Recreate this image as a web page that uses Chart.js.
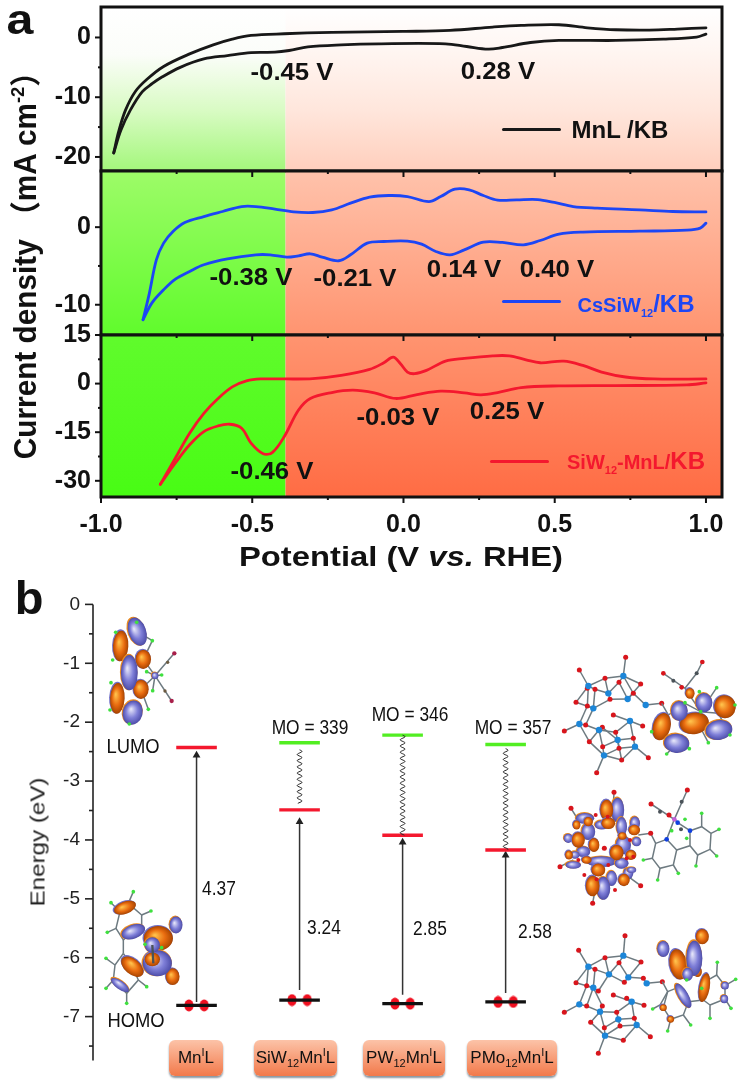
<!DOCTYPE html>
<html>
<head>
<meta charset="utf-8">
<script src="https://cdn.jsdelivr.net/npm/chart.js@4/dist/chart.umd.min.js"></script>
<style>
  html, body { margin: 0; background: #fff; }
  #page { position: relative; width: 742px; height: 1085px; overflow: hidden; font-family: "Liberation Sans", "Noto Sans CJK SC", sans-serif; }
  canvas { position: absolute; left: 0; }
  .t { position: absolute; white-space: nowrap; transform-origin: center; line-height: 1; }
  .bold { font-weight: bold; }
  .key { position: absolute; height: 3px; border-radius: 2px; }
  .box { position: absolute; top: 1040px; height: 36px; border-radius: 6px; background: linear-gradient(#fcc3a8, #f2794a); box-shadow: 0 2px 2px #8a96a0; display: flex; align-items: center; justify-content: center; font-size: 17px; color: #111; }
  .box sub, .box sup { font-size: 11px; line-height: 0; }
  .t sub { font-size: 0.55em; line-height: 0; }
</style>
</head>
<body>
<div id="page">
  <canvas id="p1" style="top:-23px"></canvas>
  <canvas id="p2" style="top:141px"></canvas>
  <canvas id="p3" style="top:305px"></canvas>
  <canvas id="pb" style="top:580px"></canvas>
</div>
<script>
// panel a: potential (V vs RHE) and current density
const xTicks = [-1, -0.5, 0, 0.5, 1]
const xMinorTicks = [-0.75, -0.25, 0.25, 0.75]

const mnlUpX = [-0.958, -0.942, -0.919, -0.887, -0.848, -0.793, -0.707, -0.629, -0.566, -0.504, -0.394, -0.237, -0.002, 0.154, 0.295, 0.389, 0.514, 0.608, 0.702, 0.812, 0.906, 1.0]
const mnlUpY = [-19.33, -15.8, -12.16, -9.08, -7.0, -4.85, -2.75, -1.23, -0.28, 0.34, 0.62, 0.84, 1.01, 1.18, 1.74, 2.02, 2.13, 1.62, 1.29, 1.23, 1.40, 1.62]
const mnlDownX = [-0.958, -0.934, -0.903, -0.864, -0.830, -0.801, -0.738, -0.660, -0.582, -0.504, -0.425, -0.378, -0.316, -0.206, -0.081, 0.139, 0.209, 0.280, 0.327, 0.420, 0.514, 0.702, 0.859, 0.969, 1.0]
const mnlDownY = [-19.33, -15.5, -12.16, -9.1, -7.7, -6.7, -5.0, -3.6, -3.03, -2.52, -2.46, -2.18, -1.57, -1.23, -1.06, -1.06, -1.51, -1.96, -1.68, -0.84, -0.5, -0.5, -0.28, 0.06, 0.56]

const csUpX = [-0.861, -0.840, -0.817, -0.793, -0.762, -0.723, -0.660, -0.598, -0.535, -0.488, -0.425, -0.363, -0.300, -0.237, -0.175, -0.112, -0.049, 0.013, 0.084, 0.123, 0.170, 0.217, 0.264, 0.311, 0.374, 0.444, 0.499, 0.561, 0.640, 0.781, 0.890, 1.0]
const csUpY = [-11.93, -8.5, -4.21, -2.06, -0.56, 0.6, 1.37, 2.02, 2.66, 2.66, 2.32, 1.97, 1.89, 2.23, 3.09, 3.86, 4.08, 3.95, 3.3, 3.95, 4.89, 4.81, 4.08, 3.48, 3.52, 3.56, 3.18, 2.66, 2.45, 2.23, 2.02, 1.97]
const csDownX = [-0.861, -0.832, -0.793, -0.754, -0.707, -0.660, -0.582, -0.488, -0.441, -0.386, -0.347, -0.308, -0.269, -0.214, -0.175, -0.120, -0.065, 0.013, 0.060, 0.107, 0.154, 0.201, 0.264, 0.327, 0.397, 0.452, 0.514, 0.593, 0.781, 0.937, 0.981, 1.0]
const csDownY = [-11.93, -9.79, -8.07, -6.70, -5.71, -4.85, -4.08, -3.56, -3.56, -3.86, -3.69, -3.43, -3.86, -4.33, -3.56, -2.06, -1.85, -1.80, -2.19, -3.13, -3.56, -2.92, -1.93, -1.97, -2.27, -1.72, -0.9, -0.64, -0.52, -0.39, -0.13, 0.52]

const siwUpX = [-0.804, -0.754, -0.707, -0.660, -0.613, -0.566, -0.519, -0.472, -0.394, -0.300, -0.206, -0.112, -0.065, -0.034, -0.010, 0.013, 0.037, 0.076, 0.139, 0.201, 0.295, 0.350, 0.405, 0.452, 0.530, 0.593, 0.655, 0.734, 0.828, 1.0]
const siwUpY = [-31.1, -22.96, -15.31, -9.18, -4.59, -1.02, 0.82, 1.43, 1.43, 1.53, 2.55, 4.39, 6.43, 8.16, 6.12, 3.57, 3.06, 4.08, 6.94, 7.76, 8.57, 8.57, 7.35, 6.43, 6.94, 5.61, 3.57, 2.04, 1.43, 1.43]
const siwDownX = [-0.804, -0.754, -0.707, -0.660, -0.613, -0.574, -0.535, -0.504, -0.464, -0.433, -0.394, -0.347, -0.308, -0.237, -0.167, -0.096, -0.026, 0.045, 0.123, 0.201, 0.256, 0.311, 0.389, 0.514, 0.702, 0.937, 1.0]
const siwDownY = [-31.1, -24.49, -18.88, -14.8, -13.06, -12.55, -13.78, -18.37, -21.63, -21.22, -16.33, -8.16, -4.59, -2.76, -2.04, -2.86, -4.59, -3.37, -2.35, -2.86, -3.47, -2.76, -1.22, -0.71, -0.61, -0.41, 0.2]

// panel b: energy levels in eV
const compounds = [0, 1, 2, 3]
const lumoLevels = [-2.43, -3.49, -3.92, -4.17]
const homoLevels = [-6.81, -6.72, -6.78, -6.75]
const moLevels = [null, -2.35, -2.22, -2.38]
const arrowTops = [-2.56, -3.69, -4.04, -4.26]
const arrowBottoms = [-6.75, -6.55, -6.63, -6.6]
const waveTops = [null, -2.47, -2.22, -2.45]
const waveBottoms = [null, -3.38, -3.92, -4.17]
const energyTicks = [0, -1, -2, -3, -4, -5, -6, -7]
const energyMinorTicks = [-0.5, -1.5, -2.5, -3.5, -4.5, -5.5, -6.5, -7.5]

const pts = (xs, ys) => xs.map((x, i) => ({ x, y: ys[i] }))
const LEFT = 101, RIGHT = 722
const SPLIT = -0.39
const tickFont = { family: "Liberation Sans", size: 25, weight: "bold" }

// page-wide gradient behind all three panels, pageY is used so panels line up
function shade(ctx, top, stops) {
  const g = ctx.createLinearGradient(0, 7 - top, 0, 497 - top)
  stops.forEach(([p, c]) => g.addColorStop((p - 7) / 490, c))
  return g
}
const greenStops = [[7, "#ffffff"], [55, "#fbfdf9"], [110, "#d9fbc4"], [170, "#a4f77c"], [172, "#9dfb68"], [335, "#60fb2c"], [497, "#48fc14"]]
const orangeStops = [[7, "#ffffff"], [50, "#fff6f2"], [110, "#ffe6dc"], [170, "#ffcfbd"], [172, "#ffc2ab"], [335, "#ff9470"], [497, "#ff6c44"]]

const panelPlugin = {
  id: "panelPlugin",
  beforeDatasetsDraw(chart) {
    const { ctx, chartArea: a, scales: { x } } = chart
    const top = chart.canvas.offsetTop
    const mid = x.getPixelForValue(SPLIT)
    ctx.save()
    ctx.fillStyle = shade(ctx, top, greenStops)
    ctx.fillRect(a.left, a.top, mid - a.left, a.height)
    ctx.fillStyle = shade(ctx, top, orangeStops)
    ctx.fillRect(mid, a.top, a.right - mid, a.height)
    ctx.restore()
  },
  afterDatasetsDraw(chart, args, opts) {
    const { ctx, chartArea: a, scales: { x, y } } = chart
    ctx.save()
    ctx.strokeStyle = "#111"
    ctx.lineWidth = 2
    opts.yMajor.concat(opts.yMinor).forEach((v) => {
      const py = y.getPixelForValue(v)
      const len = opts.yMajor.includes(v) ? 6 : 3
      ctx.beginPath(); ctx.moveTo(a.left - len, py); ctx.lineTo(a.left, py); ctx.stroke()
    })
    xTicks.concat(xMinorTicks).forEach((v) => {
      const px = x.getPixelForValue(v)
      const len = xTicks.includes(v) ? 6 : 3
      ctx.beginPath()
      if (opts.bottomAxis) { ctx.moveTo(px, a.bottom); ctx.lineTo(px, a.bottom + len) }
      if (opts.topTicks) { ctx.moveTo(px, a.top); ctx.lineTo(px, a.top + len) }
      ctx.stroke()
    })
    ctx.lineWidth = 3
    ctx.strokeRect(a.left, a.top, a.width, a.height)
    ctx.restore()
  },
}

function panel(id, cfg) {
  const el = document.getElementById(id)
  el.width = 742
  el.height = cfg.canvasH
  el.style.width = "742px"
  el.style.height = cfg.canvasH + "px"
  return new Chart(el, {
    type: "line",
    data: {
      datasets: cfg.branches.map((b) => ({
        data: b, borderColor: cfg.color, borderWidth: 2.8, pointRadius: 0, tension: 0.35,
        borderCapStyle: "round", borderJoinStyle: "round",
      })),
    },
    options: {
      responsive: false, animation: false,
      layout: { padding: { left: 0, right: 742 - RIGHT, top: 30, bottom: cfg.bottomAxis ? 0 : 30 } },
      plugins: {
        legend: { display: false }, tooltip: { enabled: false },
        panelPlugin: { yMajor: cfg.yMajor, yMinor: cfg.yMinor, bottomAxis: cfg.bottomAxis, topTicks: cfg.topTicks },
      },
      scales: {
        x: {
          type: "linear", min: -1, max: 1.053, display: !!cfg.bottomAxis,
          grid: { display: false, drawTicks: false }, border: { display: false },
          afterBuildTicks: (s) => { s.ticks = xTicks.map((value) => ({ value })) },
          afterFit: (s) => { s.height = cfg.bottomAxis ? 46 : 0 },
          ticks: { font: tickFont, color: "#111", padding: 13, maxRotation: 0, autoSkip: false, callback: (v) => v.toFixed(1) },
        },
        y: {
          min: cfg.yMin, max: cfg.yMax,
          grid: { display: false, drawTicks: false }, border: { display: false },
          afterBuildTicks: (s) => { s.ticks = cfg.yMajor.map((value) => ({ value })) },
          afterFit: (s) => { s.width = LEFT },
          ticks: { font: tickFont, color: "#111", padding: 10, autoSkip: false, callback: (v) => String(v) },
        },
      },
    },
    plugins: [panelPlugin],
  })
}

panel("p1", {
  canvasH: 224, color: "#181818",
  yMin: -22.35, yMax: 5.1, yMajor: [0, -10, -20], yMinor: [-5, -15],
  branches: [pts(mnlUpX, mnlUpY), pts(mnlDownX, mnlDownY)],
})
panel("p2", {
  canvasH: 224, color: "#1c46f5", topTicks: true,
  yMin: -13.9, yMax: 7.24, yMajor: [0, -10], yMinor: [-5],
  branches: [pts(csUpX, csUpY), pts(csDownX, csDownY)],
})
panel("p3", {
  canvasH: 238, color: "#f4182e", topTicks: true, bottomAxis: true,
  yMin: -35, yMax: 15, yMajor: [15, 0, -15, -30], yMinor: [7.5, -7.5, -22.5],
  branches: [pts(siwUpX, siwUpY), pts(siwDownX, siwDownY)],
})

// molecule sketches for panel b, not data: coordinates are 3x units from a local origin
const BLUE = ["#e2e2f8", "#7f7fd8", "#4c4ca8"]
const ORANGE = ["#ffc04a", "#e96c10", "#a84400"]
const GREEN = "#3fe03f", RED = "#d8151c", WCOL = "#1c86d8", GREY = "#4a5258"
function blob(ctx, [cx, cy, r1, r2, rot = 0], pal) {
  const rx = r1 * 1.15, ry = r2 * 1.15
  ctx.save()
  ctx.translate(cx, cy)
  ctx.rotate(rot * Math.PI / 180)
  // thin lobe of the other phase shows as a rim
  ctx.fillStyle = pal === BLUE ? "#e98a20" : "#7070c8"
  ctx.beginPath(); ctx.ellipse(-2, -2, rx * 1.04, ry * 1.04, 0, 0, Math.PI * 2); ctx.fill()
  ctx.scale(rx, ry)
  const g = ctx.createRadialGradient(-0.25, -0.25, 0.05, 0, 0, 1)
  g.addColorStop(0, pal[0]); g.addColorStop(0.55, pal[1]); g.addColorStop(1, pal[2])
  ctx.fillStyle = g
  ctx.beginPath(); ctx.arc(0, 0, 1, 0, Math.PI * 2); ctx.fill()
  ctx.restore()
}
function dots(ctx, list, color, r) {
  ctx.fillStyle = color
  list.forEach(([x, y]) => { ctx.beginPath(); ctx.arc(x, y, r, 0, Math.PI * 2); ctx.fill() })
}
function sticks(ctx, chains, color = "#6d7a80", w = 4.5) {
  ctx.strokeStyle = color
  ctx.lineWidth = w
  chains.forEach((c) => {
    ctx.beginPath()
    c.forEach(([x, y], i) => (i ? ctx.lineTo(x, y) : ctx.moveTo(x, y)))
    ctx.stroke()
  })
}
function cage(ctx, w, o) {
  const links = []
  w.forEach((a) => o.forEach((b) => { if (Math.hypot(a[0] - b[0], a[1] - b[1]) < 62) links.push([a, b]) }))
  sticks(ctx, links)
  dots(ctx, o, RED, 7.5)
  dots(ctx, w, WCOL, 9.5)
}
function at(ctx, ox, oy, fn) {
  ctx.save()
  ctx.translate(ox, oy - 580)
  ctx.scale(1 / 3, 1 / 3)
  fn()
  ctx.restore()
}
const orange = (ctx, list) => list.forEach((b) => blob(ctx, b, ORANGE))
const blue = (ctx, list) => list.forEach((b) => blob(ctx, b, BLUE))

function drawMolecules(ctx) {
  // free ligand, LUMO and HOMO
  at(ctx, 100, 610, () => {
    sticks(ctx, [[[165,197],[223,130]], [[165,197],[215,273]], [[165,197],[130,148]], [[165,197],[123,238]], [[165,197],[140,185]], [[165,197],[158,242]], [[165,197],[185,195]], [[112,65],[157,92]], [[130,148],[157,92]], [[123,238],[145,298]]])
    orange(ctx, [[62,108,20,40,3],[130,148,20,25],[123,238,20,25],[52,265,19,40,3]])
    blue(ctx, [[112,65,23,38,-20],[88,188,22,46],[98,308,26,32,15],[165,197,9,9]])
    dots(ctx, [[110,37],[47,67],[157,92],[38,150],[33,218],[30,300],[88,342],[145,298],[158,242],[185,195],[140,185]], GREEN, 5.5)
    dots(ctx, [[223,130],[215,273]], "#a81f4a", 6.5)
    dots(ctx, [[203,157],[195,243]], "#6a5a40", 5)

    sticks(ctx, [[[60,905],[48,955],[70,990],[125,945],[125,915],[85,880],[60,905]], [[100,845],[85,880]], [[33,878],[60,905]], [[125,915],[153,903]], [[48,955],[22,967]], [[70,990],[70,1030]], [[70,1030],[45,1065],[40,1110],[80,1150],[115,1110],[97,1070],[70,1030]], [[45,1065],[18,1045]], [[40,1110],[18,1135]], [[80,1150],[80,1180]], [[115,1110],[140,1130]]])
    orange(ctx, [[75,893,30,16,-20],[97,1070,34,20,40],[175,985,38,32],[218,1100,18,22]])
    blue(ctx, [[100,965,32,18,-20],[228,945,17,22],[172,1060,38,34],[60,1125,28,11,35]])
    orange(ctx, [[157,1048,20,18]])
    blue(ctx, [[157,1005,20,20]])
    sticks(ctx, [[[157,1005],[160,1060]]], GREY, 7)
    dots(ctx, [[100,845],[33,878],[153,903],[22,967],[18,1045],[18,1135],[80,1180],[140,1130],[135,1003],[185,1013]], GREEN, 5.5)
  })

  // complex with the LUMO on the ligand
  at(ctx, 545, 650, () => {
    cage(ctx,
      [[235,78],[130,108],[190,130],[248,147],[302,165],[145,175],[103,222],[255,213],[162,240],[218,270],[270,290],[177,316]],
      [[242,22],[103,60],[180,85],[222,97],[287,102],[150,118],[127,115],[93,157],[127,168],[265,130],[195,148],[350,160],[205,195],[58,243],[122,225],[172,232],[293,228],[212,247],[265,265],[133,275],[173,290],[222,295],[310,323],[230,330],[155,368]])
    sticks(ctx, [[[350,160],[370,195],[335,240],[320,245]], [[370,195],[420,160],[467,185],[445,215]], [[467,185],[515,113]], [[467,185],[520,190],[570,165]], [[520,190],[555,255]], [[470,240],[490,278]], [[395,280],[433,296]], [[395,280],[365,312]], [[355,70],[420,115],[455,70],[472,36]], [[420,115],[467,185]]])
    dots(ctx, [[355,70],[472,36],[410,112]], RED, 7)
    dots(ctx, [[385,92],[455,70],[440,135]], GREY, 6)
    orange(ctx, [[350,230,23,36,15],[448,220,38,28,-10],[540,170,28,30,-15],[435,130,12,14]])
    blue(ctx, [[403,183,22,26],[477,158,22,25],[522,240,35,26,-10],[395,280,33,25,5]])
    dots(ctx, [[515,113],[570,165],[555,255],[490,278],[433,296],[365,312],[320,245],[463,125],[420,158],[467,185]], GREEN, 5.5)
  })

  // complex with the LUMO spread on the cage
  at(ctx, 545, 780, () => {
    sticks(ctx, [[[207,37],[205,75]], [[78,85],[100,120]], [[45,260],[85,240]], [[143,370],[150,330]], [[287,317],[250,290]], [[280,165],[317,160],[332,190],[365,178]], [[332,190],[322,235],[345,265],[385,255],[395,210],[365,178]], [[395,210],[435,197],[458,225],[495,208],[498,160],[470,140],[435,152],[435,197]], [[322,235],[295,240]], [[345,265],[338,300]], [[385,255],[400,280]], [[458,225],[453,258]], [[495,208],[515,228]], [[498,160],[522,148]], [[470,140],[470,100]], [[318,72],[388,118],[427,30]], [[388,118],[398,128],[435,152]], [[388,118],[365,178]]])
    dots(ctx, [[207,37],[78,85],[45,260],[143,370],[287,317],[317,160],[178,205],[318,72],[427,30],[372,105]], RED, 7.5)
    dots(ctx, [[345,95],[410,65],[408,148]], GREY, 6)
    blue(ctx, [[218,90,17,32],[120,115,24,14],[230,140,14,25],[130,155,18,22],[115,215,18,14],[235,195,20,24],[170,245,38,14],[200,295,14,20],[175,325,18,30],[85,255,20,10],[230,250,18,14],[270,130,13,18],[250,280,13,15],[70,175,12,12],[170,135,18,12],[275,185,12,12],[90,225,12,10],[260,270,12,8]])
    orange(ctx, [[185,90,17,27],[100,180,17,20],[147,195,14,18],[215,218,18,20],[268,150,15,14],[160,270,18,17],[72,225,10,12],[237,300,15,16],[143,318,18,27],[125,240,13,10],[258,225,14,13],[95,135,10,12],[130,125,12,12],[190,130,18,15],[232,168,11,10]])
    dots(ctx, [[152,105],[188,110],[255,180],[265,230],[118,285],[155,298],[210,330],[190,255],[245,235],[100,240]], RED, 6)
    dots(ctx, [[470,100],[522,148],[515,228],[453,258],[400,280],[338,300],[295,240],[380,152],[420,118],[425,175]], GREEN, 5.5)
    dots(ctx, [[388,118]], "#c060d8", 7)
    dots(ctx, [[365,178],[435,152],[398,128]], "#1040e0", 7)
  })

  // complex with the HOMO on the Mn end
  at(ctx, 545, 925, () => {
    cage(ctx,
      [[235,92],[130,125],[192,148],[250,157],[305,175],[145,188],[103,238],[260,230],[165,260],[220,283],[275,300],[180,332]],
      [[240,32],[101,76],[180,98],[222,113],[288,111],[150,133],[93,173],[125,182],[295,160],[205,210],[352,170],[58,262],[125,243],[172,243],[297,241],[215,262],[268,280],[137,292],[178,308],[225,303],[316,335],[235,346],[160,385],[238,172],[245,220],[160,198]])
    sticks(ctx, [[[352,170],[368,200],[345,240],[323,252]], [[368,200],[405,185],[430,230],[415,270],[377,283],[355,248],[368,200]], [[415,270],[437,300]], [[377,283],[368,318]], [[430,230],[475,225],[495,240],[495,280]], [[495,240],[540,222],[540,182],[515,150],[480,170],[475,225]], [[515,150],[517,112]], [[540,182],[572,163]], [[540,222],[558,250]]])
    orange(ctx, [[400,118,23,40,-10],[472,35,17,20],[478,188,14,38,10],[355,248,9,9],[377,283,9,9],[458,140,11,14]])
    blue(ctx, [[448,100,21,46],[355,72,16,21],[415,212,13,36,-30],[540,182,10,10],[538,222,10,11],[428,148,14,17]])
    dots(ctx, [[517,112],[572,163],[558,250],[495,280],[437,300],[368,318],[323,252],[470,190],[425,165]], GREEN, 5.5)
  })
}

const levelPlugin = {
  id: "levelPlugin",
  afterDraw(chart) {
    const { ctx, chartArea: a, scales: { x, y } } = chart
    ctx.save()
    // left axis line with major and minor ticks
    ctx.strokeStyle = "#222"
    ctx.lineWidth = 1.6
    ctx.beginPath(); ctx.moveTo(a.left, y.getPixelForValue(0)); ctx.lineTo(a.left, a.bottom); ctx.stroke()
    energyTicks.concat(energyMinorTicks).forEach((v) => {
      const py = y.getPixelForValue(v)
      const len = energyTicks.includes(v) ? 8 : 4
      ctx.beginPath(); ctx.moveTo(a.left - len, py); ctx.lineTo(a.left, py); ctx.stroke()
    })
    // wavy relaxation between MO level and LUMO
    ctx.strokeStyle = "#222"
    ctx.lineWidth = 1
    compounds.forEach((c, i) => {
      if (waveTops[i] === null) return
      const px = x.getPixelForValue(c)
      const y0 = y.getPixelForValue(waveTops[i]), y1 = y.getPixelForValue(waveBottoms[i])
      ctx.beginPath()
      for (let py = y0; py <= y1; py += 0.5) {
        const dx = 2.4 * Math.sin((py - y0) / 6.2 * Math.PI * 2)
        py === y0 ? ctx.moveTo(px + dx, py) : ctx.lineTo(px + dx, py)
      }
      ctx.stroke()
    })
    drawMolecules(ctx)
    ctx.restore()
  },
}

// flat ellipse used as the electron marker
const electron = document.createElement("canvas")
electron.width = 10; electron.height = 13
{
  const e = electron.getContext("2d")
  e.fillStyle = "#f01020"
  e.beginPath(); e.ellipse(5, 6.5, 4.6, 6.1, 0, 0, Math.PI * 2); e.fill()
}

const HALF = 0.197
const levelSet = (levels, color) => compounds.filter((c) => levels[c] !== null).map((c) => ({
  data: [{ x: c - HALF, y: levels[c] }, { x: c + HALF, y: levels[c] }],
  borderColor: color, borderWidth: 3.4, pointRadius: 0,
}))
const arrowSets = compounds.map((c) => ({
  data: [{ x: c, y: arrowBottoms[c] }, { x: c, y: arrowTops[c] }],
  borderColor: "#333", borderWidth: 1.5,
  pointStyle: "triangle", pointRadius: [0, 4.5], pointBackgroundColor: "#222", pointBorderWidth: 0,
}))
const electronSet = {
  data: compounds.flatMap((c) => [{ x: c - 0.074, y: homoLevels[c] }, { x: c + 0.074, y: homoLevels[c] }]),
  showLine: false, pointStyle: electron, pointRadius: 5,
}

const pb = document.getElementById("pb")
pb.width = 742; pb.height = 505
pb.style.width = "742px"; pb.style.height = "505px"
new Chart(pb, {
  type: "line",
  data: { datasets: [...levelSet(homoLevels, "#111"), ...levelSet(lumoLevels, "#f4182e"), ...levelSet(moLevels, "#52ee22"), ...arrowSets, electronSet] },
  options: {
    responsive: false, animation: false,
    layout: { padding: { top: 19, bottom: 8, left: 0, right: 0 } },
    plugins: { legend: { display: false }, tooltip: { enabled: false } },
    scales: {
      x: { type: "linear", min: -1.005, max: 5.236, display: false },
      y: {
        min: -7.747, max: 0,
        grid: { display: false, drawTicks: false }, border: { display: false },
        afterBuildTicks: (s) => { s.ticks = energyTicks.map((value) => ({ value })) },
        afterFit: (s) => { s.width = 93 },
        ticks: { font: { family: "Liberation Sans", size: 19 }, color: "#222", padding: 13, autoSkip: false, callback: (v) => String(v) },
      },
    },
  },
  plugins: [levelPlugin],
})

// text that sits on the figure
const page = document.getElementById("page")
function label(html, x, y, size, o = {}) {
  const d = document.createElement("div")
  d.className = "t" + (o.bold ? " bold" : "")
  d.innerHTML = html
  d.style.left = x + "px"
  d.style.top = y + "px"
  d.style.fontSize = size + "px"
  d.style.color = o.color || "#111"
  d.style.transform = `translate(-50%,-50%) ${o.rotate ? `rotate(${o.rotate}deg)` : ""} scaleX(${o.sx || 1})`
  page.appendChild(d)
}
function key(x0, x1, y, color) {
  const d = document.createElement("div")
  d.className = "key"
  d.style.cssText = `left:${x0}px;width:${x1 - x0}px;top:${y - 1.5}px;background:${color}`
  page.appendChild(d)
}
function box(html, x0, x1) {
  const d = document.createElement("div")
  d.className = "box"
  d.innerHTML = `<span>${html}</span>`
  d.style.left = x0 + "px"
  d.style.width = x1 - x0 + "px"
  page.appendChild(d)
}

const B = { bold: true, sx: 1.12 }
label("a", 20, 20, 42, { bold: true, sx: 1.15 })
label("b", 29, 597, 47, { bold: true })
label("Current density （mA cm<sup style='font-size:.62em;line-height:0'>-2</sup>）", 25, 258, 31, { bold: true, rotate: -90, sx: 0.96 })
label("Potential (V <i>vs.</i> RHE)", 401, 557, 28, { bold: true, sx: 1.17 })

label("-0.45 V", 292, 72, 23, B)
label("0.28 V", 498, 71, 23, B)
label("-0.38 V", 251, 277, 23, B)
label("-0.21 V", 355, 278, 23, B)
label("0.14 V", 464, 269, 23, B)
label("0.40 V", 557, 269, 23, B)
label("-0.46 V", 272, 471, 23, B)
label("-0.03 V", 398, 417, 23, B)
label("0.25 V", 507, 411, 23, B)

key(502, 561, 129, "#181818")
label("MnL /KB", 620, 130, 24, { bold: true })
key(502, 561, 301, "#1c46f5")
label("CsSiW<sub>12</sub><span style='font-size:24px'>/KB</span>", 636, 304, 20, { bold: true, color: "#1c46f5" })
key(490, 549, 461, "#f4182e")
label("SiW<sub>12</sub>-MnL/<span style='font-size:24px'>KB</span>", 636, 461, 20, { bold: true, color: "#f4182e" })

label("Energy (eV)", 37, 842, 21, { rotate: -90, sx: 1.15, color: "#222" })
label("LUMO", 133, 746, 20, { sx: 0.92 })
label("HOMO", 136, 1020, 20, { sx: 0.92 })
label("MO = 339", 310, 728, 19.5, { sx: 0.89 })
label("MO = 346", 410, 715, 19.5, { sx: 0.89 })
label("MO = 357", 513, 728, 19.5, { sx: 0.89 })
label("4.37", 219, 889, 19.5, { sx: 0.89 })
label("3.24", 324, 928, 19.5, { sx: 0.89 })
label("2.85", 430, 929, 19.5, { sx: 0.89 })
label("2.58", 535, 932, 19.5, { sx: 0.89 })

box("Mn<sup>I</sup>L", 169, 223)
box("SiW<sub>12</sub>Mn<sup>I</sup>L", 254, 337)
box("PW<sub>12</sub>Mn<sup>I</sup>L", 363, 445)
box("PMo<sub>12</sub>Mn<sup>I</sup>L", 467, 557)
</script>
</body>
</html>
